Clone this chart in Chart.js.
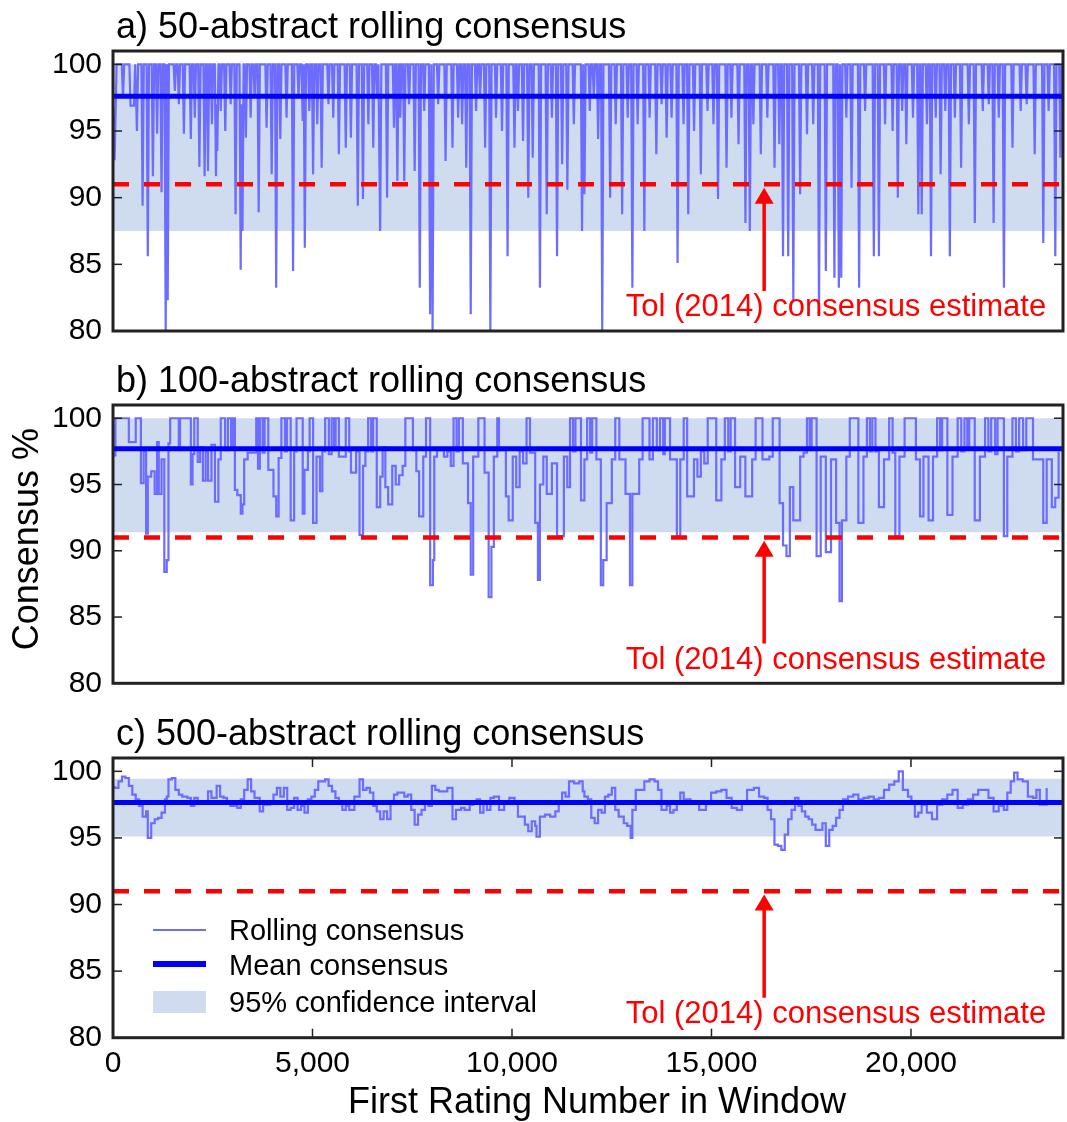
<!DOCTYPE html>
<html>
<head>
<meta charset="utf-8">
<script src="https://cdn.jsdelivr.net/npm/chart.js@4.4.1/dist/chart.umd.min.js"></script>
<style>
  body { margin: 0; background: #fff; }
  #wrap { position: relative; width: 1067px; height: 1122px; }
  canvas { position: absolute; left: 0; }
</style>
</head>
<body>
<div id="wrap">
  <canvas id="panelA" width="1067" height="360" style="top:0px"></canvas>
  <canvas id="panelB" width="1067" height="370" style="top:345px"></canvas>
  <canvas id="panelC" width="1067" height="422" style="top:700px"></canvas>
</div>
<script>
// ---- data ----
const panelTitles = [
  'a) 50-abstract rolling consensus',
  'b) 100-abstract rolling consensus',
  'c) 500-abstract rolling consensus'
];
const yTicks = [80, 85, 90, 95, 100];
const xTicks = [0, 5000, 10000, 15000, 20000];
const xMax = 23810;
const meanConsensus = [97.6, 97.7, 97.65];
const ciLow = [87.5, 91.4, 95.1];
const ciHigh = [100, 100, 99.45];
const tolEstimate = 91;
const legendLabels = ['Rolling consensus', 'Mean consensus', '95% confidence interval'];
const noteText = 'Tol (2014) consensus estimate';

// [first rating number, consensus %]
const rolling50 = [
  [0,97],[40,92.8],[90,100],[220,100],[250,97.5],[280,100],[410,100],[440,96.9],[526,96.9],[556,100],
  [570,100],[600,95],[630,100],[712,100],[742,89.4],[772,100],[842,100],[872,85.6],[902,100],
  [970,100],[1000,91.6],[1030,100],[1075,100],[1105,94.8],[1135,100],[1186,100],[1216,90.4],[1246,100],
  [1291,100],[1321,80],[1346,100],[1371,82.3],[1401,100],[1520,100],[1550,98],[1580,100],
  [1620,100],[1650,97],[1680,100],[1747,100],[1777,94.8],[1807,100],[1920,100],[1950,94.4],[1980,100],
  [2020,100],[2050,96],[2080,100],[2135,100],[2165,92.3],[2195,100],[2266,100],[2296,91.6],[2326,100],
  [2351,100],[2381,92],[2411,100],[2450,100],[2480,95.5],[2510,100],
  [2551,100],[2581,91.6],[2600,97],[2614,93.5],[2644,100],[2670,100],[2700,96.5],[2730,100],
  [2784,100],[2814,95],[2844,100],[2920,100],[2950,97],[2980,100],[3042,100],[3072,88.75],[3102,100],
  [3170,100],[3200,84.6],[3222,97],[3245,87.5],[3275,100],[3300,100],[3330,94.5],[3360,100],
  [3420,100],[3450,96],[3480,100],[3520,100],[3550,97.5],[3580,100],[3621,100],[3651,88.9],[3681,100],
  [3819,100],[3849,95.25],[3879,100],[3947,100],[3977,91.75],[4007,100],[4060,100],[4090,83.25],[4120,100],
  [4163,100],[4193,94.4],[4223,100],[4320,100],[4350,96],[4380,100],[4483,100],[4513,84.5],[4543,100],
  [4620,100],[4650,97.5],[4680,100],[4724,100],[4754,95.75],[4780,100],[4807,86.25],[4837,100],
  [4890,100],[4920,96.5],[4950,100],[4985,100],[5015,91.75],[5045,100],[5090,100],[5120,95.5],[5150,100],
  [5200,100],[5230,92.25],[5260,100],[5370,100],[5400,97],[5430,100],[5490,100],[5520,96],[5550,100],
  [5631,100],[5661,93.25],[5691,100],[5804,100],[5834,93.75],[5864,100],[5932,100],[5962,94.5],[5992,100],
  [6105,100],[6135,89.4],[6165,100],[6235,100],[6265,89.9],[6295,100],[6370,100],[6400,95.5],[6430,100],
  [6493,100],[6523,93.75],[6553,100],[6590,100],[6620,97.5],[6650,100],[6666,100],[6696,87.5],[6726,100],
  [6839,100],[6869,90],[6899,100],[7012,100],[7042,95.25],[7072,100],[7097,100],[7127,91.25],[7157,100],
  [7175,100],[7200,96],[7230,100],[7270,100],[7300,91.25],[7330,100],[7390,100],[7420,97],[7450,100],
  [7531,100],[7561,92],[7591,100],[7659,100],[7689,83.25],[7719,100],[7770,100],[7800,96.5],[7830,100],
  [7917,100],[7947,81.25],[7978,100],[8010,80],[8040,100],[8120,100],[8150,97],[8180,100],
  [8305,100],[8335,92.75],[8365,100],[8478,100],[8508,93.75],[8538,100],[8620,100],[8650,96],[8680,100],
  [8720,100],[8750,95.5],[8780,100],[8824,100],[8854,92.25],[8884,100],[8936,100],[8966,81.25],[8996,100],
  [9070,100],[9100,96.5],[9130,100],[9170,100],[9200,97.5],[9230,100],[9297,100],[9327,93.75],[9357,100],
  [9428,100],[9458,80],[9488,100],[9570,100],[9600,96],[9630,100],[9720,100],[9750,95],[9780,100],
  [9859,100],[9889,85.6],[9919,100],[10032,100],[10062,93.75],[10092,100],[10120,100],[10150,96.5],[10180,100],
  [10247,100],[10277,94.25],[10307,100],[10378,100],[10408,90],[10438,100],[10490,100],[10520,93],[10550,100],
  [10670,100],[10700,83.25],[10730,100],[10841,100],[10871,88.75],[10901,100],[10970,100],[11000,96],[11030,100],
  [11099,100],[11129,85.6],[11159,100],[11227,100],[11257,92.5],[11287,100],[11358,100],[11388,90.6],[11418,100],
  [11520,100],[11550,95.5],[11580,100],[11726,100],[11756,87.5],[11786,100],[11816,90.25],[11846,100],
  [11920,100],[11950,96.5],[11980,100],[12020,100],[12050,97.5],[12080,100],[12129,100],[12159,94.4],[12189,100],
  [12232,100],[12262,80],[12292,100],[12430,100],[12460,90],[12490,100],[12570,100],[12600,95.5],[12630,100],
  [12731,100],[12761,88.75],[12791,100],[12870,100],[12900,96],[12930,100],[12987,100],[13017,83.25],[13047,100],
  [13120,100],[13150,95.5],[13180,100],[13287,100],[13317,87.5],[13347,100],[13420,100],[13450,96],[13480,100],
  [13588,100],[13618,93.25],[13648,100],[13720,100],[13750,97],[13780,100],[13846,100],[13876,94.5],[13906,100],
  [13970,100],[14000,96],[14030,100],[14120,100],[14150,85.1],[14180,100],[14270,100],[14300,95.5],[14330,100],
  [14388,100],[14418,88.75],[14448,100],[14533,100],[14563,95],[14593,100],[14703,100],[14733,91.75],[14763,100],
  [14870,100],[14900,96.5],[14930,100],[15020,100],[15050,95.5],[15080,100],[15134,100],[15164,89.9],[15194,100],
  [15347,100],[15377,92.25],[15407,100],[15470,100],[15500,96],[15530,100],[15648,100],[15678,94],[15708,100],
  [15821,100],[15851,88.1],[15881,100],[15931,100],[15961,87.5],[15991,100],[16020,100],[16050,95.5],[16080,100],
  [16206,100],[16236,93.25],[16266,100],[16370,100],[16400,96],[16430,100],[16550,100],[16580,92.25],[16610,100],
  [16670,100],[16700,94],[16730,100],[16763,100],[16793,85.6],[16823,100],[16893,100],[16923,85.6],[16953,100],
  [17021,100],[17051,82.3],[17081,100],[17192,100],[17222,90.25],[17252,100],[17364,100],[17394,94.75],[17424,100],
  [17520,100],[17550,95.5],[17580,100],[17665,100],[17695,81.25],[17725,100],[17836,100],[17866,84.5],[17896,100],
  [18051,100],[18081,84],[18111,100],[18162,100],[18192,83.25],[18222,100],[18252,84],[18282,100],
  [18350,100],[18380,96],[18410,100],[18480,100],[18510,90.75],[18540,100],[18670,100],[18700,83.25],[18730,100],
  [18820,100],[18850,96.5],[18880,100],[19039,100],[19069,85.6],[19099,100],[19166,100],[19196,85.6],[19226,100],
  [19320,100],[19350,95.5],[19380,100],[19510,100],[19540,95],[19570,100],[19640,100],[19670,90],[19700,100],
  [19750,100],[19780,96.5],[19810,100],[19853,100],[19883,94],[19913,100],[20020,100],[20050,96],[20080,100],
  [20154,100],[20184,88.75],[20214,100],[20239,100],[20269,88.75],[20299,100],[20370,100],[20400,95.5],[20430,100],
  [20472,100],[20502,85.6],[20532,100],[20590,100],[20620,96],[20650,100],[20713,100],[20743,91.75],[20773,100],
  [20830,100],[20860,96.5],[20890,100],[20944,100],[20974,85.6],[21004,100],[21070,100],[21100,96],[21130,100],
  [21226,100],[21256,92.25],[21286,100],[21420,100],[21450,95.5],[21480,100],[21570,100],[21600,88.1],[21630,100],
  [21770,100],[21800,96.5],[21830,100],[21920,100],[21950,97],[21980,100],[22041,100],[22071,88.1],[22101,100],
  [22170,100],[22200,96],[22230,100],[22299,100],[22329,83.25],[22359,100],[22514,100],[22544,93.75],[22574,100],
  [22720,100],[22750,96.5],[22780,100],[22870,100],[22900,97],[22930,100],[23070,100],[23100,93.25],[23130,100],
  [23286,100],[23316,86.6],[23346,100],[23420,100],[23450,96.5],[23480,100],[23587,100],[23617,85.6],[23647,100],
  [23715,100],[23745,93],[23775,100],[23800,100]
];

const rolling100 = [
  [0,97.2],[60,100],[354,100],[397,98.2],[544,98.2],[570,100],[656,100],[699,95.1],[768,97.5],[829,91.3],
  [872,95.6],[958,96],[1045,94.3],[1105,98.2],[1148,94.3],[1217,96.9],[1286,88.4],[1347,89.3],[1390,98.1],[1433,100],
  [1620,100],[1649,97.6],[1680,100],[1864,100],[1951,95],[1994,97.3],[2037,100],[2080,100],[2123,96.7],[2183,97.8],
  [2253,95.3],[2322,97.5],[2382,95.3],[2468,98],[2555,93.7],[2641,96.9],[2701,100],
  [2800,100],[2810,97.6],[2870,97.6],[2880,100],[2950,100],[2960,97.8],[2990,97.8],[3000,100],
  [3029,100],[3055,94.6],[3116,94.2],[3202,92.8],[3245,93.5],[3288,96.9],[3375,97.4],[3547,97.4],[3590,100],[3634,96.2],[3680,100],
  [3740,100],[3750,97.4],[3790,97.4],[3800,100],
  [3849,100],[3892,96.1],[4022,94.1],[4091,92.6],[4151,97],[4220,100],[4300,100],[4310,97.5],[4350,97.5],[4360,100],
  [4410,100],[4453,92.3],[4540,97.5],[4600,100],[4712,100],[4755,92.8],[4799,96.1],[4885,97.5],[4928,100],
  [4980,100],[5015,92.1],[5101,97.1],[5187,94.5],[5247,97.5],[5316,100],
  [5400,100],[5410,97.3],[5470,97.3],[5480,100],[5530,100],[5540,97.6],[5570,97.6],[5580,100],
  [5618,100],[5661,97.1],[5791,97.1],[5834,100],[5880,100],[5920,97.5],[5964,95.9],[6093,97.5],[6179,91.2],[6266,96.4],
  [6326,97.5],[6395,100],[6460,100],[6470,97.5],[6510,97.5],[6520,100],
  [6567,100],[6611,93.3],[6697,95.6],[6758,97.8],[6826,94.8],[6896,93.5],[6999,96.4],[7086,95],[7172,95.7],[7258,96.4],
  [7327,100],[7474,100],[7517,97.6],[7603,96],[7672,92.6],[7776,97.1],[7845,100],[7905,100],[7949,87.4],[8017,89.3],
  [8052,97.1],[8121,97.6],[8294,97.1],[8380,97.5],[8466,96.4],[8535,100],[8600,100],[8610,97.5],[8660,97.5],[8670,100],
  [8725,100],[8768,96.6],[8898,93.6],[8966,88.2],[9027,97.1],[9157,100],[9260,100],[9312,95.9],[9415,86.5],[9484,90.3],
  [9545,97.1],[9631,100],[9674,97.6],[9847,94.1],[9916,92.3],[10019,97.1],[10106,94.8],[10192,97.5],[10278,96.6],[10365,100],
  [10451,97.4],[10581,92.1],[10650,87.8],[10700,95],[10785,97.1],[10871,94.3],[11000,96.6],[11129,91.1],[11300,97.1],[11386,94.8],
  [11455,100],[11520,100],[11530,97.5],[11580,97.5],[11590,100],
  [11644,100],[11729,93.8],[11815,96.9],[11884,100],[11950,100],[11960,97.4],[12000,97.4],[12010,100],
  [12055,100],[12115,96.9],[12227,87.4],[12287,89.3],[12373,93.6],[12502,96.9],[12588,100],[12656,100],[12690,96.9],[12845,94.3],
  [12957,87.4],[13017,94.3],[13188,96.9],[13274,100],[13403,100],[13446,96.9],[13532,100],
  [13620,100],[13630,97.6],[13700,97.6],[13710,100],[13780,100],[13790,97.3],[13820,97.3],[13830,100],
  [13875,100],[13961,96.9],[14132,91.1],[14218,96.9],[14304,100],[14347,100],[14390,94.1],[14561,96.9],[14647,95.6],[14733,97.5],
  [14819,96.6],[14905,100],[15076,100],[15119,93.8],[15248,96.9],[15334,100],[15410,100],[15420,97.5],[15470,97.5],[15480,100],
  [15548,100],[15591,94.8],[15720,97.1],[15849,94.1],[16020,96.9],[16106,100],[16235,100],[16278,96.9],[16449,97.1],[16535,100],
  [16664,100],[16707,93.6],[16793,90.4],[16879,89.6],[16964,94.8],[17050,92.3],[17222,97.1],[17308,97.4],[17393,100],
  [17450,100],[17460,97.6],[17500,97.6],[17510,100],
  [17565,100],[17634,89.6],[17737,97.1],[17866,89.9],[17995,96.9],[18123,92.1],[18209,86.2],[18269,92.3],[18380,97.1],[18466,100],
  [18638,100],[18681,92.1],[18809,97.1],[18895,100],[18960,100],[18970,97.5],[19020,97.5],[19030,100],
  [19110,97.5],[19196,93.3],[19324,96.9],[19453,100],[19539,97.4],[19607,91.1],[19711,97.1],[19840,100],
  [20054,100],[20123,96.9],[20226,92.6],[20312,97.1],[20440,92.3],[20552,97.1],[20655,100],
  [20720,100],[20730,97.6],[20770,97.6],[20780,100],
  [20827,100],[20912,92.7],[21041,97.1],[21170,100],
  [21250,100],[21260,97.5],[21330,97.5],[21340,100],[21400,100],[21410,97.7],[21450,97.7],[21460,100],
  [21513,100],[21598,92.3],[21727,97.1],[21856,100],
  [21930,100],[21940,97.5],[22000,97.5],[22010,100],[22100,100],[22110,97.3],[22160,97.3],[22170,100],
  [22242,100],[22328,91.1],[22414,97.1],[22543,100],
  [22620,100],[22630,97.5],[22700,97.5],[22710,100],[22800,100],[22810,97.6],[22880,97.6],[22890,100],
  [22971,100],[23058,96.9],[23315,92.1],[23401,96.9],[23530,93.3],[23615,94],[23700,97.5]
];

const rolling500 = [
  [0,98.8],[52,98.75],[138,99.25],[225,99.6],[311,99.5],[397,98.9],[484,98.25],[570,97.9],[656,97.4],[742,96.6],
  [829,97],[872,95],[958,96.1],[1045,96.4],[1131,96.5],[1217,96.9],[1303,97.9],[1347,98.1],[1390,99.4],[1476,99.5],
  [1562,98.6],[1649,98.25],[1735,98.1],[1864,98],[1951,97.4],[2037,98],[2123,97.6],[2253,97.6],[2382,98.5],[2468,98],
  [2598,98.9],[2684,98.1],[2771,98],[2857,97.6],[2943,97.4],[3116,97.25],[3202,97.9],[3288,98.6],[3375,99.4],[3461,98.5],
  [3547,98],[3677,97],[3763,97.5],[3849,97.5],[3936,97.6],[4022,98.25],[4108,98.75],[4194,98.1],[4281,98.75],[4367,97.1],
  [4453,97.25],[4540,98],[4626,97.1],[4712,97.4],[4799,96.9],[4885,97.9],[4971,98.1],[5058,98.6],[5144,99.25],[5230,99.25],
  [5316,99.4],[5403,98.9],[5489,98.5],[5575,98],[5662,97.6],[5748,97.1],[5834,97.4],[5920,97.1],[6050,98.1],[6179,99.4],
  [6266,98.6],[6352,98.75],[6438,98.4],[6525,97.4],[6611,97],[6697,96.4],[6783,97],[6870,96.4],[6956,97.6],[7042,98.25],
  [7128,98.4],[7215,98.4],[7301,98.1],[7387,98.25],[7474,97.1],[7560,96],[7646,96.75],[7733,97.1],[7819,97.6],[7905,97.4],
  [7992,98.9],[8078,98.6],[8164,98.5],[8294,98.5],[8380,98.75],[8509,96.4],[8596,97.1],[8725,97.25],[8811,97.1],[8941,97.5],
  [9027,97.75],[9114,97.9],[9200,96.9],[9286,97.75],[9372,97.1],[9459,98],[9545,98.1],[9674,97.1],[9804,97.75],[9933,98],
  [10063,97.75],[10149,96.6],[10235,96.6],[10322,96],[10408,95.5],[10494,96.25],[10581,95.9],[10614,95.1],[10699,96.6],[10828,96.75],
  [10957,96.6],[11086,97],[11171,97.75],[11257,98.4],[11343,98.1],[11429,99.25],[11558,99.1],[11686,99.25],[11772,98.5],[11815,98.1],
  [11901,97.9],[11987,96.5],[12073,96.1],[12158,97.1],[12244,96.9],[12330,98.1],[12416,98.25],[12502,98.75],[12588,97.1],[12673,96.6],
  [12802,96.1],[12888,95.9],[12974,95],[13017,97.1],[13102,98.6],[13188,98.6],[13317,99.25],[13446,99.4],[13574,99.25],[13660,98.6],
  [13746,97.1],[13875,97.4],[13961,96.9],[14046,97.1],[14132,97.6],[14218,98.4],[14304,97.9],[14476,97.6],[14604,97.6],[14690,97.1],
  [14776,97.1],[14862,97.6],[14990,98.4],[15119,98.5],[15248,98.6],[15377,98],[15505,97.25],[15634,97.1],[15763,97.75],[15891,98.6],
  [16063,98.75],[16192,98.1],[16321,98],[16406,97.1],[16492,96.4],[16578,94.5],[16664,94.4],[16750,94.1],[16836,95.25],[16921,96.4],
  [17007,97.1],[17093,98],[17179,97.4],[17265,97],[17350,96.6],[17436,96.4],[17522,96],[17608,95.6],[17694,95.6],[17780,96.1],
  [17865,94.4],[17951,95.6],[18037,95.9],[18123,96.5],[18209,97.1],[18295,97.9],[18423,98.1],[18552,98.25],[18681,97.9],[18809,98],
  [18938,98.1],[19067,97.9],[19196,98],[19324,98.6],[19453,99],[19582,99.25],[19693,100],[19796,98.6],[19925,98.1],[20011,97.75],
  [20097,96.6],[20183,96.9],[20268,97.5],[20397,96.9],[20526,96.4],[20655,97.5],[20783,97.9],[20912,98.25],[21041,98.6],[21170,97.25],
  [21298,97.5],[21427,97.9],[21556,98.25],[21684,98.6],[21813,98.6],[21942,98],[22071,97],[22199,97.4],[22328,97.1],[22414,98.4],
  [22500,99.25],[22585,99.9],[22671,99.4],[22800,99.25],[22929,98.1],[23058,98],[23143,98.6],[23229,97.5],[23315,97.5],[23401,98.75]
];

// ---- styling ----
const FONT = '"Liberation Sans", Arial, Helvetica, sans-serif';
const rollingColor = 'rgb(108,108,255)';
const meanColor = '#0000ff';
const bandColor = 'rgb(207,220,240)';
const tolColor = '#ff0000';
const frameColor = '#222';

Chart.defaults.font.family = FONT;
Chart.defaults.color = '#000';

function strokeLine(ctx, x1, y1, x2, y2) {
  ctx.beginPath();
  ctx.moveTo(x1, y1);
  ctx.lineTo(x2, y2);
  ctx.stroke();
}

// axes box, inward ticks and the panel title
const framePlugin = {
  id: 'frame',
  afterDraw(chart, args, opts) {
    const { ctx, chartArea: a, scales } = chart;
    ctx.save();
    ctx.strokeStyle = frameColor;
    ctx.lineWidth = 1.5;
    yTicks.forEach(v => {
      const y = scales.y.getPixelForValue(v);
      strokeLine(ctx, a.left, y, a.left + 9, y);
      strokeLine(ctx, a.right - 9, y, a.right, y);
    });
    if (opts.xTicks) {
      xTicks.forEach(v => {
        const x = scales.x.getPixelForValue(v);
        strokeLine(ctx, x, a.bottom, x, a.bottom - 9);
        strokeLine(ctx, x, a.top, x, a.top + 9);
      });
    }
    ctx.lineWidth = 3;
    ctx.strokeRect(a.left, a.top, a.right - a.left, a.bottom - a.top);

    ctx.fillStyle = '#000';
    ctx.textBaseline = 'alphabetic';
    ctx.font = '36px ' + FONT;
    ctx.textAlign = 'left';
    ctx.fillText(opts.title, a.left + 3, a.top - 13);

    if (opts.yTitle) {
      ctx.save();
      ctx.translate(38, (a.top + a.bottom) / 2 - 5);
      ctx.rotate(-Math.PI / 2);
      ctx.textAlign = 'center';
      ctx.fillText(opts.yTitle, 0, 0);
      ctx.restore();
    }
    if (opts.xTitle) {
      ctx.textAlign = 'center';
      ctx.fillText(opts.xTitle, (a.left + a.right) / 2 + 9, a.bottom + 75);
    }
    ctx.restore();
  }
};

// red arrow + "Tol (2014)" label
const tolNotePlugin = {
  id: 'tolNote',
  afterDatasetsDraw(chart) {
    const { ctx, scales: { x, y } } = chart;
    const ax = x.getPixelForValue(16320);
    const tipY = y.getPixelForValue(90.75);
    const tailY = y.getPixelForValue(83.0);
    ctx.save();
    ctx.strokeStyle = tolColor;
    ctx.fillStyle = tolColor;
    ctx.lineWidth = 3.5;
    strokeLine(ctx, ax, tailY, ax, tipY + 12);
    ctx.beginPath();
    ctx.moveTo(ax, tipY);
    ctx.lineTo(ax - 9.5, tipY + 16);
    ctx.lineTo(ax + 9.5, tipY + 16);
    ctx.closePath();
    ctx.fill();
    ctx.font = '31px ' + FONT;
    ctx.textAlign = 'left';
    ctx.textBaseline = 'alphabetic';
    ctx.fillText(noteText, x.getPixelForValue(12850), y.getPixelForValue(81.1));
    ctx.restore();
  }
};

// legend drawn inside panel c
const legendPlugin = {
  id: 'insideLegend',
  afterDraw(chart, args, opts) {
    if (!opts.show) return;
    const { ctx, chartArea: a } = chart;
    const x0 = a.left + 40, x1 = a.left + 93;
    ctx.save();
    ctx.strokeStyle = rollingColor;
    ctx.lineWidth = 2;
    strokeLine(ctx, x0, a.top + 172, x1, a.top + 172);
    ctx.strokeStyle = meanColor;
    ctx.lineWidth = 6;
    strokeLine(ctx, x0, a.top + 206, x1, a.top + 206);
    ctx.fillStyle = bandColor;
    ctx.fillRect(x0, a.top + 233, x1 - x0, 22);
    ctx.fillStyle = '#000';
    ctx.font = '29px ' + FONT;
    ctx.textAlign = 'left';
    ctx.textBaseline = 'alphabetic';
    ctx.fillText(legendLabels[0], a.left + 116, a.top + 182);
    ctx.fillText(legendLabels[1], a.left + 116, a.top + 217);
    ctx.fillText(legendLabels[2], a.left + 116, a.top + 254);
    ctx.restore();
  }
};

function makePanel(canvasId, idx, series, layout) {
  const flat = v => [{ x: 0, y: v }, { x: xMax, y: v }];
  return new Chart(document.getElementById(canvasId), {
    type: 'line',
    data: {
      datasets: [
        {
          data: series.map(([x, y]) => ({ x, y })),
          borderColor: rollingColor, borderWidth: 2.2, pointRadius: 0, order: 3,
          stepped: layout.stepped || false
        },
        {
          data: flat(meanConsensus[idx]),
          borderColor: meanColor, borderWidth: 5, pointRadius: 0, order: 2
        },
        {
          data: flat(tolEstimate),
          borderColor: tolColor, borderWidth: 4.5, borderDash: [16, 15], pointRadius: 0, order: 1
        },
        {
          data: flat(ciHigh[idx]),
          borderWidth: 0, borderColor: 'rgba(0,0,0,0)', pointRadius: 0,
          fill: { value: ciLow[idx] }, backgroundColor: bandColor, order: 4
        }
      ]
    },
    plugins: [framePlugin, tolNotePlugin, legendPlugin],
    options: {
      responsive: false,
      animation: false,
      events: [],
      layout: { padding: { top: layout.top, bottom: layout.bottom, left: 0, right: 4 } },
      plugins: {
        legend: { display: false },
        tooltip: { enabled: false },
        frame: {
          title: panelTitles[idx],
          xTicks: layout.xAxis,
          yTitle: layout.yTitle,
          xTitle: layout.xTitle
        },
        insideLegend: { show: layout.legend }
      },
      scales: {
        x: {
          type: 'linear', min: 0, max: xMax,
          display: layout.xAxis,
          grid: { display: false, drawTicks: false },
          border: { display: false },
          afterBuildTicks: s => { s.ticks = xTicks.map(v => ({ value: v })); },
          afterFit: s => { if (layout.xAxis) s.height = 84.3; },
          ticks: {
            autoSkip: false, maxRotation: 0, padding: 8,
            font: { size: 30 }, color: '#000',
            callback: v => Number(v).toLocaleString('en-US')
          }
        },
        y: {
          min: 80, max: 101,
          grid: { display: false, drawTicks: false },
          border: { display: false },
          afterBuildTicks: s => { s.ticks = yTicks.map(v => ({ value: v })); },
          afterFit: s => { s.width = 113; },
          ticks: { padding: 11, font: { size: 30 }, color: '#000' }
        }
      }
    }
  });
}

makePanel('panelA', 0, rolling50, { top: 51, bottom: 29, xAxis: false });
makePanel('panelB', 1, rolling100, { top: 60, bottom: 31.7, xAxis: false, yTitle: 'Consensus %', stepped: true });
makePanel('panelC', 2, rolling500, { top: 58, bottom: 0, xAxis: true, legend: true, stepped: true,
  xTitle: 'First Rating Number in Window' });
</script>
</body>
</html>
